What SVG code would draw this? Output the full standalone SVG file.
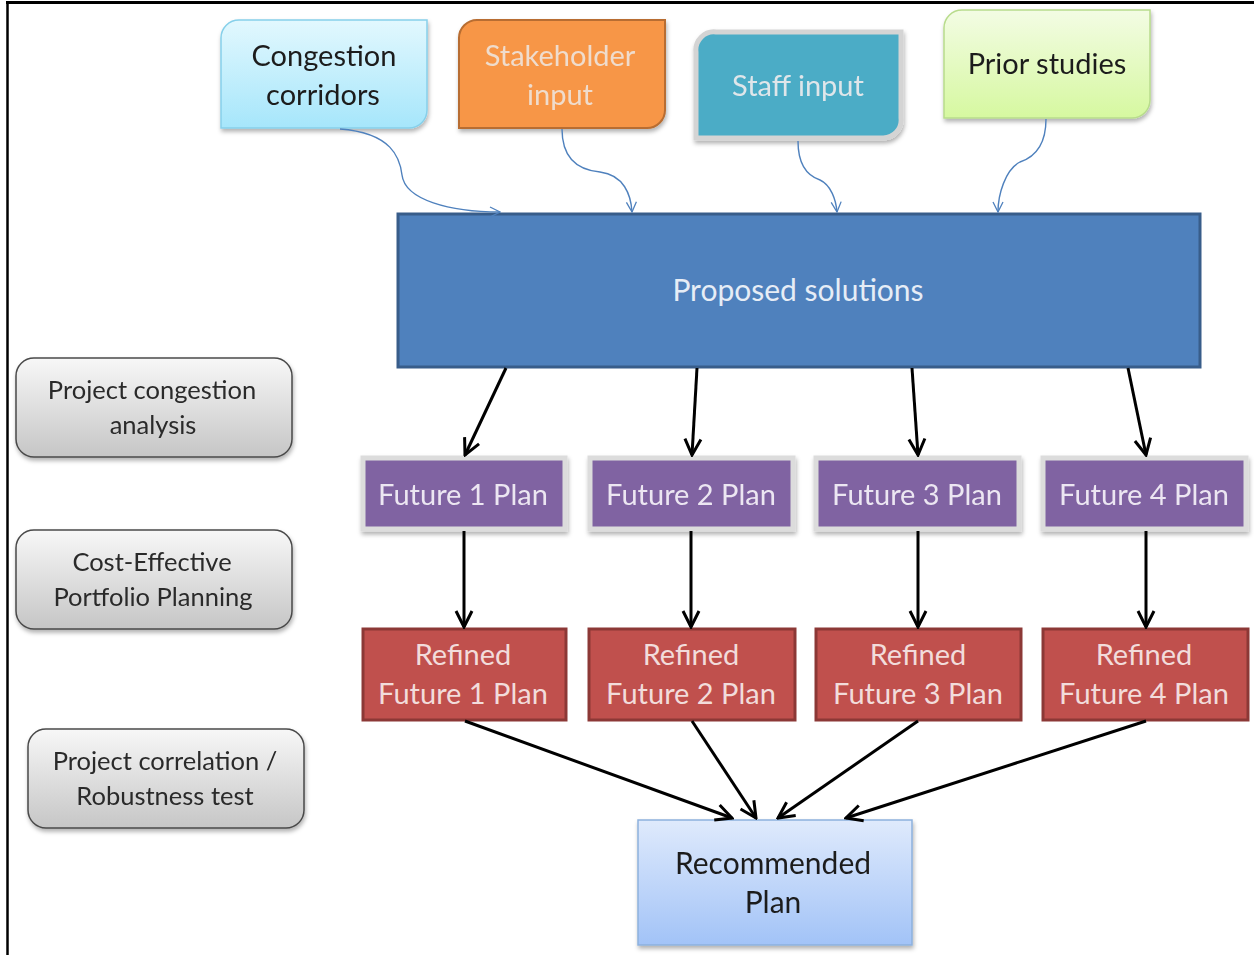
<svg xmlns="http://www.w3.org/2000/svg" width="1254" height="955" viewBox="0 0 1254 955">
<defs>
<linearGradient id="gCyan" x1="0" y1="0" x2="0" y2="1"><stop offset="0" stop-color="#e2f8fe"/><stop offset="1" stop-color="#a6e6fb"/></linearGradient>
<linearGradient id="gGreen" x1="0" y1="0" x2="0" y2="1"><stop offset="0" stop-color="#f3fce4"/><stop offset="1" stop-color="#d6f8a0"/></linearGradient>
<linearGradient id="gGray" x1="0" y1="0" x2="0" y2="1"><stop offset="0" stop-color="#f7f7f7"/><stop offset="1" stop-color="#c6c6c6"/></linearGradient>
<linearGradient id="gBlue" x1="0" y1="0" x2="0" y2="1"><stop offset="0" stop-color="#dfeafc"/><stop offset="1" stop-color="#a2c3f7"/></linearGradient>
<filter id="sh" x="-10%" y="-10%" width="125%" height="130%"><feDropShadow dx="1" dy="3" stdDeviation="2" flood-color="#000" flood-opacity="0.3"/></filter>
<marker id="ab" viewBox="0 0 12 12" refX="11" refY="6" markerWidth="12" markerHeight="12" markerUnits="userSpaceOnUse" orient="auto"><path d="M1,1 L11,6 L1,11" fill="none" stroke="#4f81bd" stroke-width="1.3"/></marker>
<marker id="ak" viewBox="0 0 20 20" refX="18" refY="10" markerWidth="20" markerHeight="20" markerUnits="userSpaceOnUse" orient="auto"><path d="M2,2 L18,10 L2,18" fill="none" stroke="#000" stroke-width="3"/></marker>
</defs>
<style>
text{font-family:Lato,"Open Sans","Liberation Sans",sans-serif;text-anchor:middle}
.t28{font-size:29px}
.t30{font-size:30px}
.dark{fill:#1e1e1e}
.gtext{fill:#2a2a2a;font-size:25.5px}
.gray{fill:url(#gGray);stroke:#4a4a4a;stroke-width:1.5}
.fut{fill:#8064a2;stroke:#dcdcdc;stroke-width:5}
.ref{fill:#c0504d;stroke:#8c3836;stroke-width:3}
.k{fill:none;stroke:#000;stroke-width:3;marker-end:url(#ak)}
.b{fill:none;stroke:#4f81bd;stroke-width:1.4;marker-end:url(#ab)}
</style>
<rect width="1254" height="955" fill="#fff"/>
<line x1="6" y1="2.5" x2="1254" y2="2.5" stroke="#000" stroke-width="3"/>
<line x1="7.5" y1="2" x2="7.5" y2="955" stroke="#000" stroke-width="2.5"/>

<g id="congestion-corridors" filter="url(#sh)">
<path d="M239,20 H427 V110 A18,18 0 0 1 409,128 H221 V38 A18,18 0 0 1 239,20 Z" fill="url(#gCyan)" stroke="#86d0ea" stroke-width="1.5"/>
<text class="t28 dark" x="324" y="66">Congestion</text>
<text class="t28 dark" x="323" y="105">corridors</text>
</g>
<g id="stakeholder-input" filter="url(#sh)">
<path d="M477,20 H665 V110 A18,18 0 0 1 647,128 H459 V38 A18,18 0 0 1 477,20 Z" fill="#f79646" stroke="#b86d30" stroke-width="2"/>
<text class="t28" fill="#efdccd" x="560" y="66">Stakeholder</text>
<text class="t28" fill="#efdccd" x="560" y="105">input</text>
</g>
<g id="staff-input" filter="url(#sh)">
<path d="M716,32 H901 V118 A18,18 0 0 1 883,138 H696 V52 A18,18 0 0 1 716,32 Z" fill="#4bacc6" stroke="#d4d4d4" stroke-width="5"/>
<text class="t28" fill="#dfe6ea" x="798" y="96">Staff input</text>
</g>
<g id="prior-studies" filter="url(#sh)">
<path d="M962,10 H1150 V100 A18,18 0 0 1 1132,118 H944 V28 A18,18 0 0 1 962,10 Z" fill="url(#gGreen)" stroke="#b8dc8c" stroke-width="1.5"/>
<text class="t28 dark" x="1047" y="74">Prior studies</text>
</g>

<g id="proposed-solutions">
<rect x="398" y="214" width="802" height="153" fill="#4f81bd" stroke="#385d8a" stroke-width="3"/>
<text class="t30" fill="#e6edf6" x="798" y="301">Proposed solutions</text>
</g>

<g id="project-congestion-analysis" filter="url(#sh)">
<rect class="gray" x="16" y="358" width="276" height="99" rx="18"/>
<text class="gtext" x="152" y="399">Project congestion</text>
<text class="gtext" x="153" y="434">analysis</text>
</g>
<g id="cost-effective-portfolio" filter="url(#sh)">
<rect class="gray" x="16" y="530" width="276" height="99" rx="18"/>
<text class="gtext" x="152" y="571">Cost-Effective</text>
<text class="gtext" x="153" y="606">Portfolio Planning</text>
</g>
<g id="project-correlation" filter="url(#sh)">
<rect class="gray" x="28" y="729" width="276" height="99" rx="18"/>
<text class="gtext" x="165" y="770">Project correlation /</text>
<text class="gtext" x="165" y="805">Robustness test</text>
</g>

<g id="future-1" filter="url(#sh)"><rect class="fut" x="363" y="458" width="202" height="71"/><text class="t28" fill="#ece6f2" x="463" y="505">Future 1 Plan</text></g>
<g id="future-2" filter="url(#sh)"><rect class="fut" x="590" y="458" width="203" height="71"/><text class="t28" fill="#ece6f2" x="691" y="505">Future 2 Plan</text></g>
<g id="future-3" filter="url(#sh)"><rect class="fut" x="816" y="458" width="203" height="71"/><text class="t28" fill="#ece6f2" x="917" y="505">Future 3 Plan</text></g>
<g id="future-4" filter="url(#sh)"><rect class="fut" x="1043" y="458" width="203" height="71"/><text class="t28" fill="#ece6f2" x="1144" y="505">Future 4 Plan</text></g>

<g id="refined-1"><rect class="ref" x="363" y="629" width="203" height="91"/><text class="t28" fill="#f2dcdb" x="463" y="665">Refined</text><text class="t28" fill="#f2dcdb" x="463" y="704">Future 1 Plan</text></g>
<g id="refined-2"><rect class="ref" x="589" y="629" width="206" height="91"/><text class="t28" fill="#f2dcdb" x="691" y="665">Refined</text><text class="t28" fill="#f2dcdb" x="691" y="704">Future 2 Plan</text></g>
<g id="refined-3"><rect class="ref" x="816" y="629" width="205" height="91"/><text class="t28" fill="#f2dcdb" x="918" y="665">Refined</text><text class="t28" fill="#f2dcdb" x="918" y="704">Future 3 Plan</text></g>
<g id="refined-4"><rect class="ref" x="1043" y="629" width="205" height="91"/><text class="t28" fill="#f2dcdb" x="1144" y="665">Refined</text><text class="t28" fill="#f2dcdb" x="1144" y="704">Future 4 Plan</text></g>

<g id="recommended-plan" filter="url(#sh)">
<rect x="638" y="820" width="274" height="125" fill="url(#gBlue)" stroke="#8db1dd" stroke-width="1.5"/>
<text class="t30 dark" x="773" y="874">Recommended</text>
<text class="t30 dark" x="773" y="913">Plan</text>
</g>

<g id="connectors">
<path class="b" d="M340,129 C392,133 400,158 402,175 C405,200 450,212 500,212"/>
<path class="b" d="M562,129 C562,158 578,170 600,172 C624,175 631,195 632,212"/>
<path class="b" d="M798,141 C798,165 808,176 820,180 C831,185 836,200 837,212"/>
<path class="b" d="M1046,119 C1046,148 1032,158 1020,162 C1005,170 998,195 998,212"/>
<path class="k" d="M506,368 L465,455"/>
<path class="k" d="M697,368 L692,455"/>
<path class="k" d="M912,368 L918,455"/>
<path class="k" d="M1128,368 L1146,455"/>
<path class="k" d="M464,531 L464,627"/>
<path class="k" d="M691,531 L691,627"/>
<path class="k" d="M918,531 L918,627"/>
<path class="k" d="M1146,531 L1146,627"/>
<path class="k" d="M465,721 L732,818"/>
<path class="k" d="M692,721 L756,818"/>
<path class="k" d="M918,721 L778,818"/>
<path class="k" d="M1146,721 L846,818"/>
</g>
</svg>
